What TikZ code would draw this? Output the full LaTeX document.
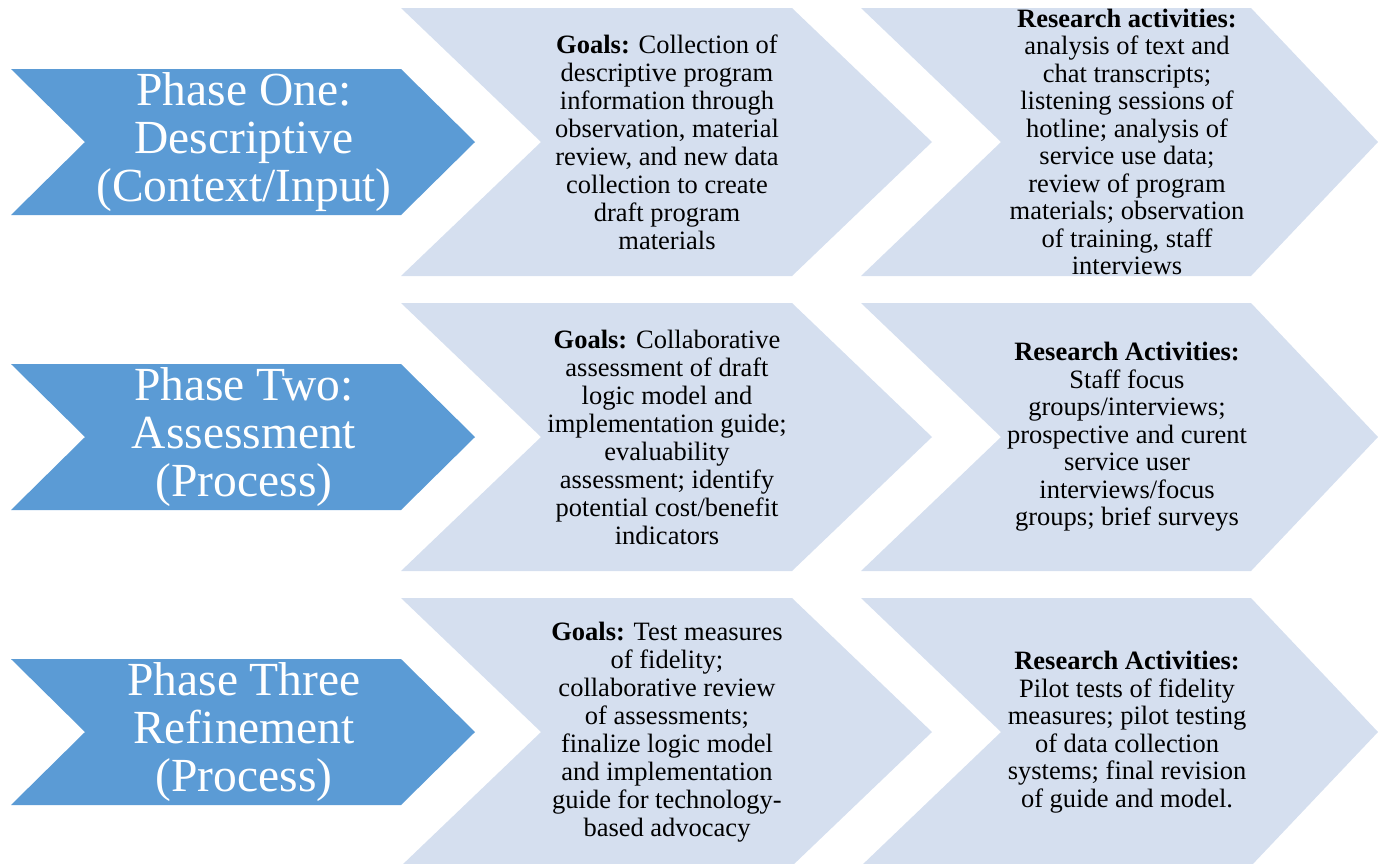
\documentclass[tikz,border=0pt]{standalone}
\usepackage{fontspec}
\setmainfont{Liberation Serif}
\pgfdeclarelayer{edgelayer}
\pgfdeclarelayer{nodelayer}
\pgfsetlayers{edgelayer,nodelayer,main}
\definecolor{phaseblue}{RGB}{91,155,213}
\definecolor{paleblue}{RGB}{213,223,239}
\tikzstyle{phase}=[fill=phaseblue]
\tikzstyle{pale}=[fill=paleblue]
\tikzstyle{phasetext}=[align=center,text=white,inner sep=0pt,font=\fontsize{47.5}{48}\selectfont]
\tikzstyle{goaltext}=[align=center,inner sep=0pt,font=\fontsize{26.5}{28}\selectfont]
\tikzstyle{acttext}=[align=center,inner sep=0pt,font=\fontsize{26.5}{27.5}\selectfont]

\begin{document}
\begin{tikzpicture}[x=1pt,y=-1pt]
	\useasboundingbox (0,0) rectangle (1378,863);
	\begin{pgfonlayer}{nodelayer}
		\node [style=phasetext] (phase1) at (244,142) {Phase One:\\Descriptive\\(Context/Input)};
		\node [style=goaltext] (goals1) at (667,142) {\textbf{Goals:} Collection of\\descriptive program\\information through\\observation, material\\review, and new data\\collection to create\\draft program\\materials};
		\node [style=acttext] (act1) at (1127,142) {\textbf{Research activities:}\\analysis of text and\\chat transcripts;\\listening sessions of\\hotline; analysis of\\service use data;\\review of program\\materials; observation\\of training, staff\\interviews};
		\node [style=phasetext] (phase2) at (244,437) {Phase Two:\\Assessment\\(Process)};
		\node [style=goaltext] (goals2) at (667,437) {\textbf{Goals:} Collaborative\\assessment of draft\\logic model and\\implementation guide;\\evaluability\\assessment; identify\\potential cost/benefit\\indicators};
		\node [style=acttext] (act2) at (1127,437) {\textbf{Research Activities:}\\Staff focus\\groups/interviews;\\prospective and curent\\service user\\interviews/focus\\groups; brief surveys};
		\node [style=phasetext] (phase3) at (244,732) {Phase Three\\Refinement\\(Process)};
		\node [style=goaltext] (goals3) at (667,732) {\textbf{Goals:} Test measures\\of fidelity;\\collaborative review\\of assessments;\\finalize logic model\\and implementation\\guide for technology-\\based advocacy};
		\node [style=acttext] (act3) at (1127,732) {\textbf{Research Activities:}\\Pilot tests of fidelity\\measures; pilot testing\\of data collection\\systems; final revision\\of guide and model.};
	\end{pgfonlayer}
	\begin{pgfonlayer}{edgelayer}
		% phase one
		\fill [style=phase] (11,69) -- (401,69) -- (475,142) -- (401,215) -- (11,215) -- (85,142) -- cycle;
		\fill [style=pale] (401,8) -- (792,8) -- (932,142) -- (792,276) -- (401,276) -- (541,142) -- cycle;
		\fill [style=pale] (861,8) -- (1251,8) -- (1378,142) -- (1251,276) -- (861,276) -- (1001,142) -- cycle;
		% phase two
		\fill [style=phase] (11,364) -- (401,364) -- (475,437) -- (401,510) -- (11,510) -- (85,437) -- cycle;
		\fill [style=pale] (401,303) -- (792,303) -- (932,437) -- (792,571) -- (401,571) -- (541,437) -- cycle;
		\fill [style=pale] (861,303) -- (1251,303) -- (1378,437) -- (1251,571) -- (861,571) -- (1001,437) -- cycle;
		% phase three
		\fill [style=phase] (11,659) -- (401,659) -- (475,732) -- (401,805) -- (11,805) -- (85,732) -- cycle;
		\fill [style=pale] (401,598) -- (792,598) -- (932,732) -- (792,866) -- (401,866) -- (541,732) -- cycle;
		\fill [style=pale] (861,598) -- (1251,598) -- (1378,732) -- (1251,866) -- (861,866) -- (1001,732) -- cycle;
	\end{pgfonlayer}
\end{tikzpicture}
\end{document}
